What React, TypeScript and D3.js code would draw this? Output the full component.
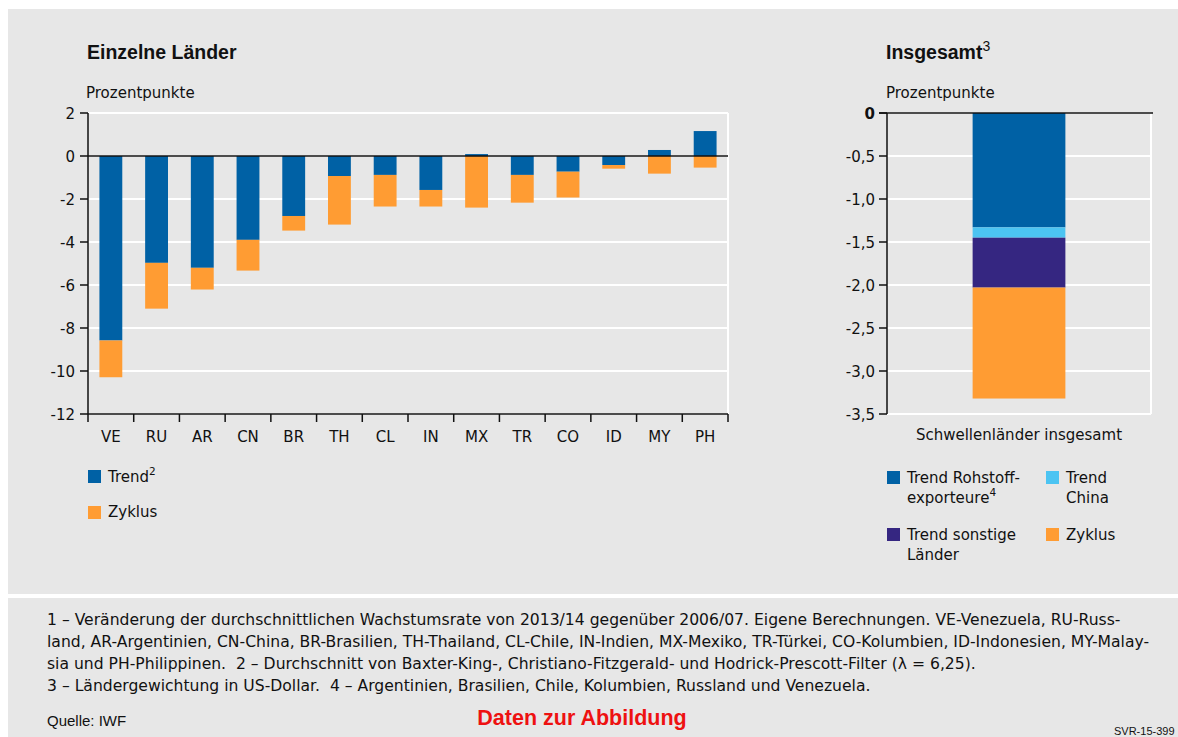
import React from "react";
import * as d3 from "d3";

const countries = ["VE", "RU", "AR", "CN", "BR", "TH", "CL", "IN", "MX", "TR", "CO", "ID", "MY", "PH"];
const trendValues = [-8.58, -4.97, -5.2, -3.9, -2.79, -0.93, -0.88, -1.58, 0.09, -0.88, -0.73, -0.42, 0.28, 1.16];
const cycleValues = [-1.71, -2.13, -1.01, -1.43, -0.68, -2.26, -1.47, -0.77, -2.4, -1.29, -1.2, -0.17, -0.82, -0.54];
const leftTicks = [2, 0, -2, -4, -6, -8, -10, -12];

const totalCategory = ["Schwellenländer insgesamt"];
const totalKeys = ["rohstoff", "china", "sonstige", "zyklus"];
const totalValues = [-1.33, -0.12, -0.58, -1.29];
const rightTicks = [0, -0.5, -1.0, -1.5, -2.0, -2.5, -3.0, -3.5];

const C_TREND = "#0061a5";
const C_CYCLE = "#ff9c33";
const C_CHINA = "#4cc4f2";
const C_OTHER = "#352681";
const totalColors = [C_TREND, C_CHINA, C_OTHER, C_CYCLE];

const FONT = "'DejaVu Sans', sans-serif";
const TFONT = "'Liberation Sans', Arial, sans-serif";
const BG = "#e7e7e7";
const FS = 15;

const footnotes = [
  "1 – Veränderung der durchschnittlichen Wachstumsrate von 2013/14 gegenüber 2006/07. Eigene Berechnungen. VE-Venezuela, RU-Russ-",
  "land, AR-Argentinien, CN-China, BR-Brasilien, TH-Thailand, CL-Chile, IN-Indien, MX-Mexiko, TR-Türkei, CO-Kolumbien, ID-Indonesien, MY-Malay-",
  "sia und PH-Philippinen.  2 – Durchschnitt von Baxter-King-, Christiano-Fitzgerald- und Hodrick-Prescott-Filter (λ = 6,25).",
  "3 – Ländergewichtung in US-Dollar.  4 – Argentinien, Brasilien, Chile, Kolumbien, Russland und Venezuela.",
];

export default function App() {
  // Left chart
  const lx0 = 88, lx1 = 728, top = 113, bottom = 414;
  const x = d3.scaleBand<string>().domain(countries).range([lx0, lx1]).paddingInner(0.5).paddingOuter(0.25);
  const y = d3.scaleLinear().domain([-12, 2]).range([bottom, top]);
  const rows = countries.map((c, i) => ({ c, trend: trendValues[i], cycle: cycleValues[i] }));
  const stack = d3.stack<any>().keys(["trend", "cycle"]).offset(d3.stackOffsetDiverging);
  const series = stack(rows);
  const leftColors = [C_TREND, C_CYCLE];

  // Right chart
  const rx0 = 887, rx1 = 1151;
  const xr = d3.scaleBand<string>().domain(totalCategory).range([rx0, rx1]).padding(0.48);
  const yr = d3.scaleLinear().domain([-3.5, 0]).range([bottom, top]);
  const trow: any = { cat: totalCategory[0] };
  totalKeys.forEach((k, i) => (trow[k] = totalValues[i]));
  const rseries = d3.stack<any>().keys(totalKeys).offset(d3.stackOffsetDiverging)([trow]);
  const fmtR = (v: number) => (v === 0 ? "0" : d3.format(".1f")(v).replace(".", ",").replace("−", "-"));

  const boundaries = d3.range(countries.length + 1).map((i) => lx0 + (i * (lx1 - lx0)) / countries.length);

  return (
    <svg width={1178} height={737} style={{ position: "absolute", left: 0, top: 0 }} fontFamily={FONT}>
      <rect x={0} y={0} width={1178} height={737} fill="#fff" />
      <rect x={8} y={9} width={1170} height={585} fill={BG} />
      <rect x={8} y={598} width={1170} height={139} fill={BG} />

      {/* Left titles */}
      <text x={87} y={59} fontSize={19.5} fontWeight="bold" fill="#111" fontFamily={TFONT}>Einzelne Länder</text>
      <text x={86} y={98} fontSize={FS} fill="#111">Prozentpunkte</text>

      {/* Left grid */}
      {leftTicks.map((t) => (
        <line key={"g" + t} x1={lx0} x2={lx1} y1={y(t)} y2={y(t)} stroke="#fff" strokeWidth={2} />
      ))}
      <line x1={lx1} x2={lx1} y1={top} y2={bottom} stroke="#fff" strokeWidth={2} />

      {/* Left bars */}
      {series.map((s, si) =>
        s.map((d, i) => (
          <rect
            key={si + "-" + i}
            x={x(countries[i])}
            width={x.bandwidth()}
            y={y(Math.max(d[0], d[1]))}
            height={Math.abs(y(d[0]) - y(d[1]))}
            fill={leftColors[si]}
          />
        ))
      )}
      <line x1={lx0} x2={lx1} y1={y(0)} y2={y(0)} stroke="#111" strokeWidth={1.5} />

      {/* Left axes */}
      <line x1={lx0} x2={lx0} y1={top} y2={bottom} stroke="#111" strokeWidth={1.5} />
      <line x1={lx0} x2={lx1} y1={bottom} y2={bottom} stroke="#111" strokeWidth={1.5} />
      {leftTicks.map((t) => (
        <g key={"t" + t}>
          <line x1={lx0 - 8} x2={lx0} y1={y(t)} y2={y(t)} stroke="#111" strokeWidth={1.5} />
          <text x={75} y={y(t) + 5.5} fontSize={FS} textAnchor="end" fill="#111">{String(t)}</text>
        </g>
      ))}
      {boundaries.map((bx, i) => (
        <line key={"b" + i} x1={bx} x2={bx} y1={bottom} y2={bottom + 8} stroke="#111" strokeWidth={1.5} />
      ))}
      {countries.map((c) => (
        <text key={"c" + c} x={(x(c) as number) + x.bandwidth() / 2} y={442} fontSize={FS} textAnchor="middle" fill="#111">{c}</text>
      ))}

      {/* Left legend */}
      <rect x={88} y={470} width={13} height={13} fill={C_TREND} />
      <text x={108} y={482} fontSize={FS} fill="#111">Trend<tspan fontSize={10.5} dy={-7}>2</tspan></text>
      <rect x={88} y={506} width={13} height={13} fill={C_CYCLE} />
      <text x={108} y={517} fontSize={FS} fill="#111">Zyklus</text>

      {/* Right titles */}
      <text x={886} y={59} fontSize={19.5} fontWeight="bold" fill="#111" fontFamily={TFONT}>Insgesamt<tspan fontSize={14} dy={-8} fontWeight="normal">3</tspan></text>
      <text x={886} y={98} fontSize={FS} fill="#111">Prozentpunkte</text>

      {/* Right grid */}
      {rightTicks.map((t) => (
        <line key={"rg" + t} x1={rx0} x2={rx1} y1={yr(t)} y2={yr(t)} stroke="#fff" strokeWidth={2} />
      ))}
      <line x1={rx1} x2={rx1} y1={top} y2={bottom} stroke="#fff" strokeWidth={2} />

      {/* Right bar */}
      {rseries.map((s, si) =>
        s.map((d, i) => (
          <rect
            key={"r" + si + "-" + i}
            x={xr(totalCategory[i])}
            width={xr.bandwidth()}
            y={yr(Math.max(d[0], d[1]))}
            height={Math.abs(yr(d[0]) - yr(d[1]))}
            fill={totalColors[si]}
          />
        ))
      )}
      <line x1={rx0 - 8} x2={rx1 + 2} y1={yr(0)} y2={yr(0)} stroke="#111" strokeWidth={1.5} />
      <line x1={rx0} x2={rx0} y1={top} y2={bottom} stroke="#111" strokeWidth={1.5} />
      {rightTicks.map((t) => (
        <g key={"rt" + t}>
          <line x1={rx0 - 8} x2={rx0} y1={yr(t)} y2={yr(t)} stroke="#111" strokeWidth={1.5} />
          <text x={875} y={yr(t) + 5.5} fontSize={FS} textAnchor="end" fill="#111" fontWeight={t === 0 ? "bold" : "normal"}>{fmtR(t)}</text>
        </g>
      ))}
      <text x={(rx0 + rx1) / 2} y={440} fontSize={FS} textAnchor="middle" fill="#111">{totalCategory[0]}</text>

      {/* Right legend */}
      <rect x={887} y={471} width={13} height={13} fill={C_TREND} />
      <text x={907} y={483} fontSize={FS} fill="#111">Trend Rohstoff-</text>
      <text x={907} y={503} fontSize={FS} fill="#111">exporteure<tspan fontSize={10.5} dy={-7}>4</tspan></text>
      <rect x={1046} y={471} width={13} height={13} fill={C_CHINA} />
      <text x={1066} y={483} fontSize={FS} fill="#111">Trend</text>
      <text x={1066} y={503} fontSize={FS} fill="#111">China</text>
      <rect x={887} y={528} width={13} height={13} fill={C_OTHER} />
      <text x={907} y={540} fontSize={FS} fill="#111">Trend sonstige</text>
      <text x={907} y={560} fontSize={FS} fill="#111">Länder</text>
      <rect x={1046} y={528} width={13} height={13} fill={C_CYCLE} />
      <text x={1066} y={540} fontSize={FS} fill="#111">Zyklus</text>

      {/* Footnotes */}
      {footnotes.map((f, i) => (
        <text key={"f" + i} x={47} y={625 + i * 22} fontSize={15.6} fill="#111" style={{ whiteSpace: "pre" }}>{f}</text>
      ))}
      <text x={47} y={726} fontSize={15} fill="#111" fontFamily={TFONT}>Quelle: IWF</text>
      <text x={582} y={725} fontSize={21.5} fontWeight="bold" textAnchor="middle" fill="#ee1111" fontFamily={TFONT}>Daten zur Abbildung</text>
      <text x={1114} y={735} fontSize={11} fill="#111" fontFamily={TFONT}>SVR-15-399</text>
    </svg>
  );
}
